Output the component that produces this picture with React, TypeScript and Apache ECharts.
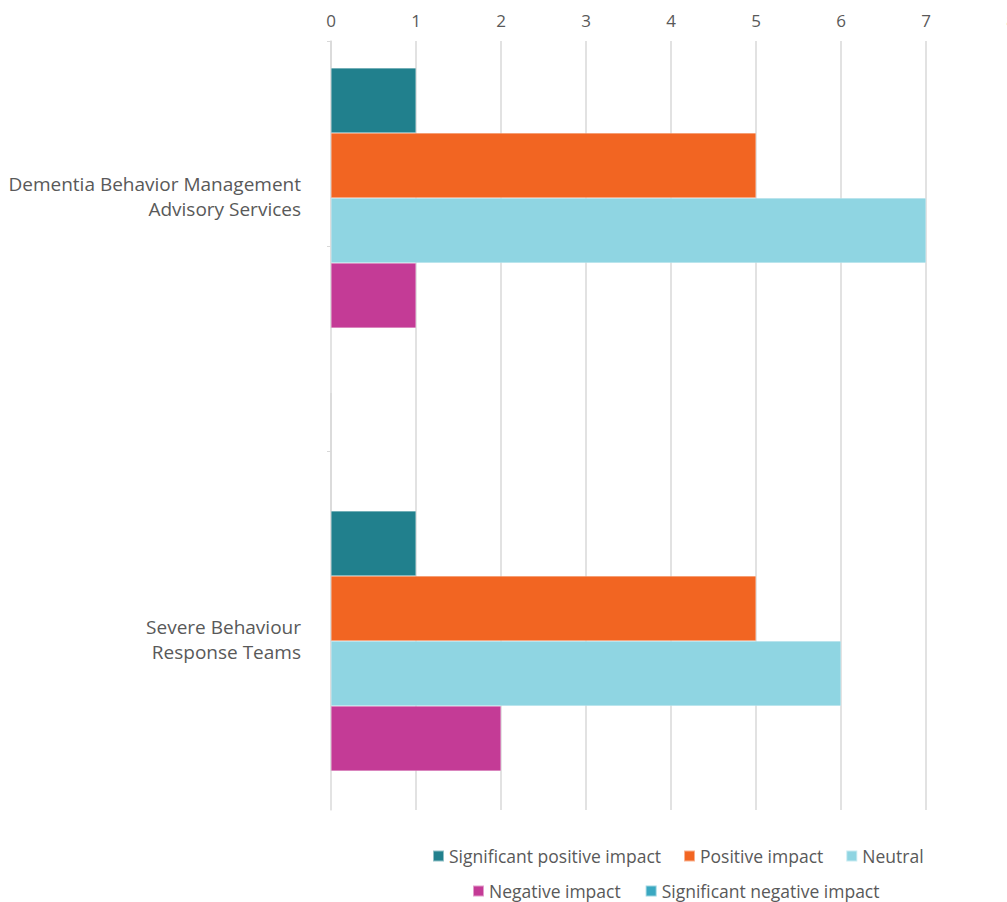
import React, { useEffect, useRef } from "react";
import * as echarts from "echarts";

const categories = [
  "Dementia Behavior Management\nAdvisory Services",
  "Severe Behaviour\nResponse Teams",
];
const seriesNames = [
  "Significant positive impact",
  "Positive impact",
  "Neutral",
  "Negative impact",
  "Significant negative impact",
];
const sigPositive = [1, 1];
const positive = [5, 5];
const neutral = [7, 6];
const negative = [1, 2];
const sigNegative = [0, 0];
const xTicks = [0, 1, 2, 3, 4, 5, 6, 7, 8];

const colors = ["#21808D", "#F26522", "#8FD5E2", "#C43B96", "#3AA8C1"];
const FONT = "'Open Sans', 'Noto Sans', sans-serif";
const TEXT = "#595959";
const GRID = "#d9d9d9";

export default function App() {
  const ref = useRef<HTMLDivElement>(null);
  useEffect(() => {
    if (!ref.current) return;
    const chart = echarts.init(ref.current, undefined, { renderer: "svg" });
    const values = [sigPositive, positive, neutral, negative, sigNegative];
    const legendText = { color: TEXT, fontSize: 17.5, fontFamily: FONT, lineHeight: 18 };
    chart.setOption({
      animation: false,
      grid: [
        { left: 331, right: -4, top: 9, bottom: 7, outerBoundsMode: "none", containLabel: false },
        { left: 331, right: -4, top: 41, bottom: 92, outerBoundsMode: "none", containLabel: false },
      ],
      xAxis: [
        { gridIndex: 0, type: "value", min: 0, max: 8, interval: 1, show: false },
        {
          gridIndex: 1,
          type: "value",
          position: "top",
          min: xTicks[0],
          max: xTicks[xTicks.length - 1],
          interval: 1,
          axisLine: { show: false },
          axisTick: { show: false },
          axisLabel: { color: TEXT, fontSize: 17, fontFamily: FONT, margin: 12 },
          splitLine: { show: true, lineStyle: { color: GRID, width: 1.5 } },
        },
      ],
      yAxis: [
        {
          gridIndex: 0,
          type: "category",
          inverse: true,
          data: categories,
          axisLine: { show: false },
          axisTick: { show: false },
          axisLabel: {
            color: TEXT,
            fontSize: 19,
            fontFamily: FONT,
            lineHeight: 25,
            align: "right",
            verticalAlign: "bottom",
            margin: 30,
            padding: [0, 0, 9, 0],
          },
        },
        {
          gridIndex: 1,
          type: "value",
          inverse: true,
          min: 0,
          max: 3.75,
          interval: 1,
          axisLine: { show: true, lineStyle: { color: GRID, width: 1.5 } },
          axisTick: { show: true, length: 4, lineStyle: { color: GRID }, customValues: [0, 1, 2] },
          axisLabel: { show: false },
          splitLine: { show: false },
        },
      ],
      legend: [
        {
          data: seriesNames.slice(0, 3),
          left: 432,
          top: 847,
          padding: 0,
          icon: "rect",
          itemWidth: 11,
          itemHeight: 11,
          itemGap: 22,
          textStyle: legendText,
        },
        {
          data: seriesNames.slice(3),
          left: 472,
          top: 882,
          padding: 0,
          icon: "rect",
          itemWidth: 11,
          itemHeight: 11,
          itemGap: 24,
          textStyle: legendText,
        },
      ],
      series: seriesNames.map((name, i) => ({
        name,
        type: "bar",
        xAxisIndex: 0,
        yAxisIndex: 0,
        data: values[i],
        barGap: "0%",
        barCategoryGap: "26.6%",
        itemStyle: { color: colors[i], borderColor: "rgba(255,255,255,0.5)", borderWidth: 0.5 },
      })),
    });
    return () => chart.dispose();
  }, []);
  return (
    <div
      ref={ref}
      style={{ position: "absolute", left: 0, top: 0, width: 1007, height: 902 }}
    />
  );
}
